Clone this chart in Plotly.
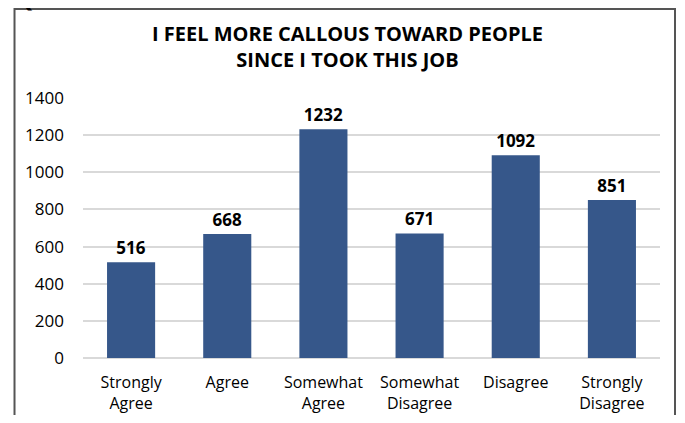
import plotly.graph_objects as go

categories = ["Strongly<br>Agree", "Agree", "Somewhat<br>Agree", "Somewhat<br>Disagree",
              "Disagree", "Strongly<br>Disagree"]
counts = [516, 668, 1232, 671, 1092, 851]
y_ticks = [0, 200, 400, 600, 800, 1000, 1200, 1400]

bar_color = "#36578a"
font_name = "Open Sans"

fig = go.Figure()
fig.add_trace(go.Bar(
    x=categories,
    y=counts,
    marker=dict(color=bar_color, line=dict(width=0)),
    text=[str(v) for v in counts],
    textposition="outside",
    textfont=dict(family=font_name, size=17, color="black", weight="bold"),
    cliponaxis=False,
))

# the page body adds an 8px margin all round, so the figure is shrunk to
# avoid scrollbars and the margins are shifted to compensate
fig.update_layout(
    width=669, height=407,
    margin=dict(l=75, r=17, t=90, b=57, autoexpand=False),
    paper_bgcolor="white", plot_bgcolor="white",
    bargap=0.5,
    showlegend=False,
    font=dict(family=font_name, size=16, color="black"),
    shapes=[
        dict(type="rect", xref="paper", yref="paper",
             x0=-0.1187, x1=1.026, y0=-0.6, y1=1.342,
             line=dict(color="#555555", width=2), fillcolor="rgba(0,0,0,0)", layer="below"),
    ],
    annotations=[
        dict(text="I FEEL MORE CALLOUS TOWARD PEOPLE<br>SINCE I TOOK THIS JOB",
             xref="paper", yref="paper", x=0.458, y=1.20, xanchor="center", yanchor="middle",
             showarrow=False, font=dict(family=font_name, size=20, color="black", weight="bold")),
        dict(text="QUESTION 6", xref="paper", yref="paper", x=-0.12, y=1.319,
             xanchor="left", yanchor="bottom", showarrow=False,
             font=dict(family=font_name, size=22, color="black", weight="bold")),
    ],
)

fig.update_xaxes(showgrid=False, showline=False, ticks="", tickfont=dict(size=16),
                 automargin=False, ticklabelstandoff=13)
fig.update_yaxes(range=[0, 1400], tickvals=y_ticks, showgrid=True, gridcolor="#d9d9d9",
                 gridwidth=1.5, zeroline=True, zerolinecolor="#d9d9d9", zerolinewidth=1.5,
                 ticks="", ticklabelstandoff=18, tickfont=dict(size=17), automargin=False)

fig.write_html("out.html")
